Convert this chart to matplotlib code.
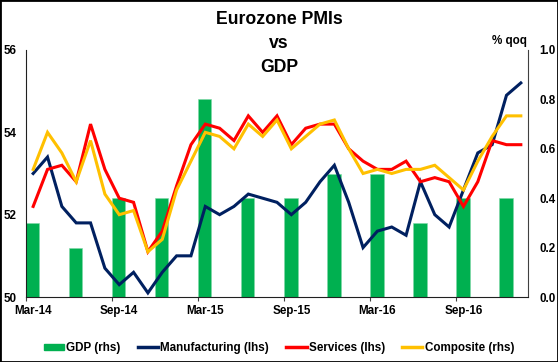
import matplotlib
matplotlib.use("Agg")
import matplotlib.pyplot as plt
import matplotlib.patches as mpatches
from matplotlib.lines import Line2D
import numpy as np
import pandas as pd

plt.rcParams['font.family'] = ['Liberation Sans', 'DejaVu Sans']
plt.rcParams['font.weight'] = 'bold'

# ---- data ----
months = [d.strftime('%b-%y') for d in pd.date_range('2014-03-01', '2017-01-01', freq='MS')]
manufacturing = [53.0, 53.4, 52.2, 51.8, 51.8, 50.7, 50.3, 50.6, 50.1, 50.6, 51.0, 51.0,
                 52.2, 52.0, 52.2, 52.5, 52.4, 52.3, 52.0, 52.3, 52.8, 53.2, 52.3, 51.2,
                 51.6, 51.7, 51.5, 52.8, 52.0, 51.7, 52.6, 53.5, 53.7, 54.9, 55.2]
services = [52.2, 53.1, 53.2, 52.8, 54.2, 53.1, 52.4, 52.3, 51.1, 51.6, 52.7, 53.7,
            54.2, 54.1, 53.8, 54.4, 54.0, 54.4, 53.7, 54.1, 54.2, 54.2, 53.6, 53.3,
            53.1, 53.1, 53.3, 52.8, 52.9, 52.8, 52.2, 52.8, 53.8, 53.7, 53.7]
composite = [53.1, 54.0, 53.5, 52.8, 53.8, 52.5, 52.0, 52.1, 51.1, 51.4, 52.6, 53.3,
             54.0, 53.9, 53.6, 54.2, 53.9, 54.3, 53.6, 53.9, 54.2, 54.3, 53.6, 53.0,
             53.1, 53.0, 53.1, 53.1, 53.2, 52.9, 52.6, 53.3, 53.9, 54.4, 54.4]
gdp_quarters = ['Mar-14', 'Jun-14', 'Sep-14', 'Dec-14', 'Mar-15', 'Jun-15',
                'Sep-15', 'Dec-15', 'Mar-16', 'Jun-16', 'Sep-16', 'Dec-16']
gdp = [0.3, 0.2, 0.4, 0.4, 0.8, 0.4, 0.4, 0.5, 0.5, 0.3, 0.4, 0.4]
xtick_labels = ['Mar-14', 'Sep-14', 'Mar-15', 'Sep-15', 'Mar-16', 'Sep-16']
left_ticks = [50, 52, 54, 56]
right_ticks = [0.0, 0.2, 0.4, 0.6, 0.8, 1.0]

GREEN = '#00B050'
NAVY = '#002060'
RED = '#FF0000'
ORANGE = '#FFC000'
FS = 8.4

W, H = 558, 362
fig = plt.figure(figsize=(W / 100, H / 100), dpi=100)
L, R, B, T = 26, 528, 297, 50
ax = fig.add_axes([L / W, 1 - B / H, (R - L) / W, (B - T) / H])
ax2 = ax.twinx()

n = len(months)
xc = np.arange(n) + 0.5
idx = {m: i for i, m in enumerate(months)}

# bars on secondary (right) axis
bx = [idx[q] for q in gdp_quarters]
ax2.bar(bx, gdp, width=0.93, align='edge', color=GREEN, edgecolor='#7fd7a7', linewidth=0.4, zorder=1)
ax2.set_ylim(0, 1.0)
ax2.set_yticks(right_ticks)
ax2.set_yticklabels([f'{v:.1f}' for v in right_ticks])

# lines on primary axis, drawn above bars
ax.set_zorder(ax2.get_zorder() + 1)
ax.patch.set_visible(False)
lw = 2.2
ax.plot(xc, manufacturing, color=NAVY, lw=lw, solid_joinstyle='miter', zorder=3)
ax.plot(xc, services, color=RED, lw=lw, solid_joinstyle='miter', zorder=4)
ax.plot(xc, composite, color=ORANGE, lw=lw, solid_joinstyle='miter', zorder=5)
ax.set_ylim(50, 56)
ax.set_xlim(0, n)
ax.set_yticks(left_ticks)
ax.set_yticklabels([str(v) for v in left_ticks])

# x ticks: marks at category boundaries, labels centered on categories
tick_pos = [idx[m] for m in xtick_labels]
ax.set_xticks(tick_pos)
ax.set_xticklabels([''] * len(tick_pos))
ax.set_xticks([p + 0.5 for p in tick_pos], minor=True)
ax.set_xticklabels(xtick_labels, minor=True)
ax.tick_params(axis='x', which='major', length=3, width=0.8, direction='out', color='#404040')
ax.tick_params(axis='x', which='minor', length=0, pad=5.5, labelsize=FS)
ax.tick_params(axis='y', length=0, pad=7, labelsize=FS)
ax2.tick_params(axis='y', length=0, pad=8, labelsize=FS)

for a in (ax, ax2):
    a.spines['top'].set_visible(False)
    for s in ('left', 'right', 'bottom'):
        a.spines[s].set_color('#202020')
        a.spines[s].set_linewidth(0.8)
ax.spines['right'].set_visible(False)
ax2.spines['left'].set_visible(False)
ax2.spines['bottom'].set_visible(False)
ax2.spines['right'].set_color('#404040')

# title & unit label
fig.text(0.5, 1 - 11 / H, 'Eurozone PMIs\nvs\nGDP', ha='center', va='top',
         fontsize=12.7, fontweight='bold', linespacing=1.52)
fig.text(509 / W, 1 - 41 / H, '% qoq', ha='center', va='center', fontsize=FS, fontweight='bold')

# legend
handles = [mpatches.Patch(color=GREEN),
           Line2D([], [], color=NAVY, lw=2.5),
           Line2D([], [], color=RED, lw=2.5),
           Line2D([], [], color=ORANGE, lw=2.5)]
labels = ['GDP (rhs)', 'Manufacturing (lhs)', 'Services (lhs)', 'Composite (rhs)']
fig.legend(handles, labels, loc='center', bbox_to_anchor=(0.5, 1 - 348 / H), ncol=4,
           frameon=False, fontsize=FS, handlelength=1.75, handleheight=0.5,
           handletextpad=0.2, columnspacing=1.45, borderpad=0, borderaxespad=0)

# figure border
fig.patches.append(mpatches.Rectangle((0, 0), 1, 1, transform=fig.transFigure,
                                      fill=False, edgecolor='black', linewidth=2.0))

fig.savefig('out.png', dpi=100)
